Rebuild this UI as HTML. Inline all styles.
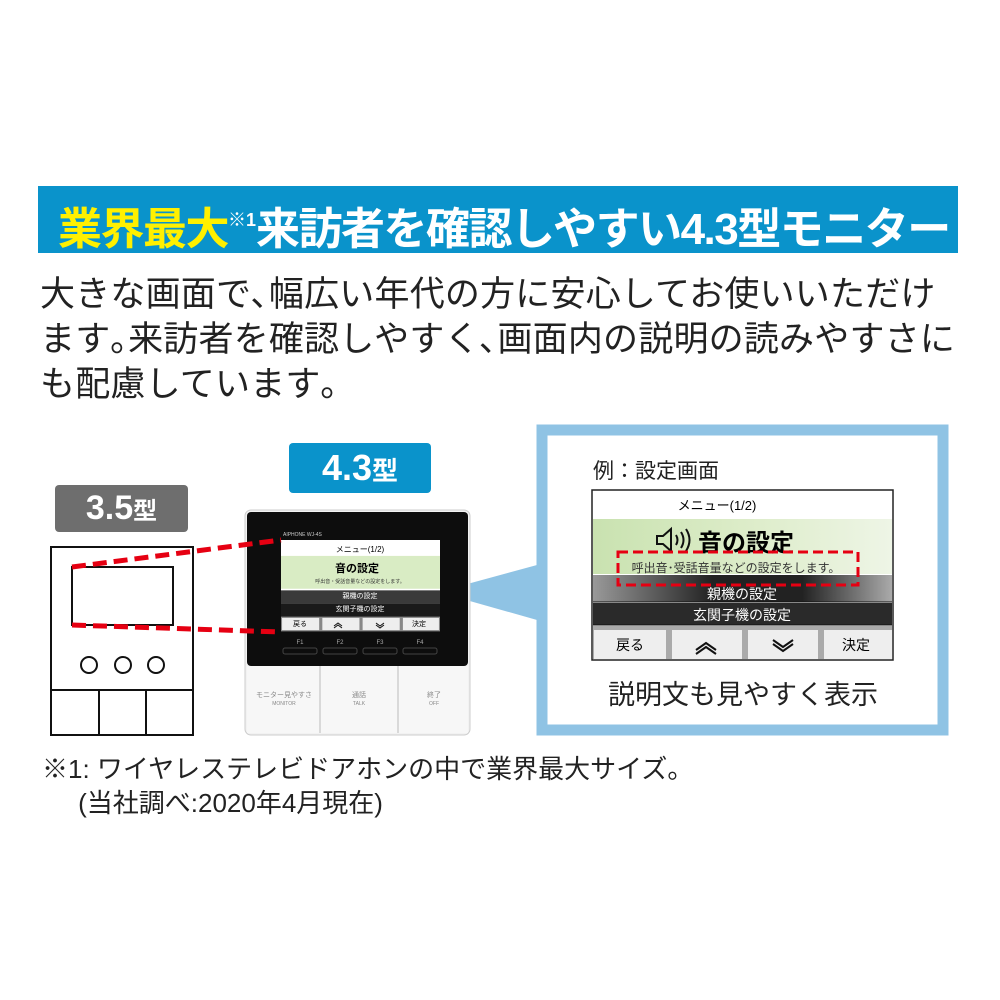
<!DOCTYPE html>
<html><head><meta charset="utf-8">
<style>
body{margin:0;width:1000px;height:1000px;background:#fff;position:relative;overflow:hidden;font-family:"Liberation Sans","Noto Sans CJK JP",sans-serif;}
.a{position:absolute;white-space:nowrap;}
</style></head><body>
<div class="a" style="left:38px;top:186px;width:920px;height:67px;background:#0a93cb;"></div>
<div class="a" style="left:58px;top:190px;font-size:44px;font-weight:bold;color:#fff;line-height:60px;letter-spacing:-1.5px"><span style="color:#fff000">業界最大</span><span style="font-size:18px;vertical-align:18px;letter-spacing:0">※1</span>来訪者を確認しやすい4.3型モニター</div>
<div class="a" style="left:40px;top:272px;font-size:35px;line-height:45px;color:#222;letter-spacing:0.2px">大きな画面で､幅広い年代の方に安心してお使いいただけ<br>ます｡来訪者を確認しやすく､画面内の説明の読みやすさに<br>も配慮しています｡</div>

<svg class="a" style="left:0;top:0" width="1000" height="1000">
 <rect x="55" y="485" width="133" height="47" rx="4" fill="#6e6e6e"/>
 <rect x="51" y="547" width="142" height="188" fill="#fff" stroke="#111" stroke-width="2"/>
 <rect x="72" y="567" width="101" height="58" fill="#fff" stroke="#111" stroke-width="2"/>
 <circle cx="89" cy="665" r="8" fill="none" stroke="#111" stroke-width="2"/>
 <circle cx="123" cy="665" r="8" fill="none" stroke="#111" stroke-width="2"/>
 <circle cx="156" cy="665" r="8" fill="none" stroke="#111" stroke-width="2"/>
 <line x1="51" y1="690" x2="193" y2="690" stroke="#111" stroke-width="2"/>
 <line x1="99" y1="690" x2="99" y2="735" stroke="#111" stroke-width="2"/>
 <line x1="146" y1="690" x2="146" y2="735" stroke="#111" stroke-width="2"/>
 <rect x="289" y="443" width="142" height="50" rx="4" fill="#0a93cb"/>
 <rect x="542" y="430" width="401" height="300" fill="#fff" stroke="#8fc3e4" stroke-width="11"/>
 <polygon points="438,592 537,565 537,620" fill="#8fc3e4"/>
 <rect x="245" y="510" width="225" height="225" rx="6" fill="#f2f2f2" stroke="#ccc"/>
 <rect x="247" y="512" width="221" height="154" rx="4" fill="#0d0d0d"/>
 <rect x="247" y="666" width="221" height="67" fill="#f7f7f7"/>
 <line x1="320" y1="666" x2="320" y2="733" stroke="#bbb"/>
 <line x1="398" y1="666" x2="398" y2="733" stroke="#bbb"/>
 <text x="283" y="536" font-size="5" fill="#ccc">AIPHONE WJ-4S</text>
 <g transform="translate(281,540) scale(0.53)">
  <rect x="0" y="0" width="300" height="172" fill="#fff"/>
  <rect x="0" y="30" width="300" height="62" fill="#d9ecc4"/>
  <rect x="0" y="95" width="300" height="25" fill="#3a3a3a"/>
  <rect x="0" y="120" width="300" height="25" fill="#1a1a1a"/>
  <rect x="0" y="145" width="300" height="27" fill="#888"/>
  <rect x="2" y="147" width="70" height="23" fill="#eee"/><rect x="78" y="147" width="70" height="23" fill="#eee"/><rect x="154" y="147" width="70" height="23" fill="#eee"/><rect x="230" y="147" width="68" height="23" fill="#eee"/>
 </g>
 <text x="360" y="552" font-size="8" text-anchor="middle">メニュー(1/2)</text>
 <text x="335" y="572" font-size="11" font-weight="bold">音の設定</text>
 <text x="360" y="583" font-size="5" text-anchor="middle" fill="#333">呼出音・受話音量などの設定をします。</text>
 <text x="360" y="598" font-size="7" text-anchor="middle" fill="#fff">親機の設定</text>
 <text x="360" y="611" font-size="7" text-anchor="middle" fill="#fff">玄関子機の設定</text>
 <text x="300" y="626" font-size="7" text-anchor="middle">戻る</text>
 <path d="M334,626 l4,-3 l4,3 M334,628 l4,-3 l4,3" stroke="#111" fill="none"/>
 <path d="M376,623 l4,3 l4,-3 M376,625 l4,3 l4,-3" stroke="#111" fill="none"/>
 <text x="419" y="626" font-size="7" text-anchor="middle">決定</text>
 <g font-size="6" fill="#aaa" text-anchor="middle"><text x="300" y="644">F1</text><text x="340" y="644">F2</text><text x="380" y="644">F3</text><text x="420" y="644">F4</text></g>
 <g stroke="#444" fill="none"><rect x="283" y="648" width="34" height="6" rx="2"/><rect x="323" y="648" width="34" height="6" rx="2"/><rect x="363" y="648" width="34" height="6" rx="2"/><rect x="403" y="648" width="34" height="6" rx="2"/></g>
 <g font-size="7" fill="#888" text-anchor="middle"><text x="284" y="697">モニター見やすさ</text><text x="284" y="705" font-size="5">MONITOR</text><text x="359" y="697">通話</text><text x="359" y="705" font-size="5">TALK</text><text x="434" y="697">終了</text><text x="434" y="705" font-size="5">OFF</text></g>
 <line x1="72" y1="567" x2="281" y2="540" stroke="#e60012" stroke-width="5" stroke-dasharray="14,7"/>
 <line x1="72" y1="625" x2="281" y2="632" stroke="#e60012" stroke-width="5" stroke-dasharray="14,7"/>
 <rect x="592" y="490" width="301" height="170" fill="#fff" stroke="#222" stroke-width="1.5"/>
 <defs><linearGradient id="g" x1="0" x2="1"><stop offset="0" stop-color="#c9e2b0"/><stop offset="0.5" stop-color="#dcecc8"/><stop offset="1" stop-color="#eef5e6"/></linearGradient>
 <linearGradient id="d" x1="0" x2="1"><stop offset="0" stop-color="#999"/><stop offset="0.4" stop-color="#222"/><stop offset="0.7" stop-color="#222"/><stop offset="1" stop-color="#aaa"/></linearGradient></defs>
 <rect x="593" y="519" width="299" height="55" fill="url(#g)"/>
 <rect x="593" y="575" width="299" height="27" fill="url(#d)"/>
 <line x1="593" y1="602" x2="892" y2="602" stroke="#111"/>
 <rect x="593" y="603" width="299" height="22" fill="#2a2a2a"/>
 <line x1="593" y1="625" x2="892" y2="625" stroke="#111"/>
 <rect x="593" y="626" width="299" height="33" fill="#aaa"/>
 <rect x="594" y="630" width="72" height="29" fill="#eee"/><rect x="672" y="630" width="70" height="29" fill="#eee"/><rect x="748" y="630" width="70" height="29" fill="#eee"/><rect x="824" y="630" width="68" height="29" fill="#eee"/>
 <text x="717" y="510" font-size="13" text-anchor="middle">メニュー(1/2)</text>
 <path d="M657,536 h6 l8,-7 v22 l-8,-7 h-6 z" fill="none" stroke="#111" stroke-width="2"/>
 <path d="M676,535 q3,5 0,10 M681,532 q5,8 0,16 M686,529 q7,11 0,22" fill="none" stroke="#111" stroke-width="2"/>
 <text x="698" y="551" font-size="24" font-weight="bold">音の設定</text>
 <text x="736" y="572" font-size="12" text-anchor="middle" fill="#333">呼出音･受話音量などの設定をします。</text>
 <rect x="618" y="552" width="240" height="33" fill="none" stroke="#e60012" stroke-width="3" stroke-dasharray="10,5"/>
 <text x="742" y="599" font-size="14" text-anchor="middle" fill="#fff">親機の設定</text>
 <text x="742" y="620" font-size="14" text-anchor="middle" fill="#fff">玄関子機の設定</text>
 <text x="630" y="650" font-size="14" text-anchor="middle">戻る</text>
 <path d="M696,650 l10,-7 l10,7 M696,654 l10,-7 l10,7" stroke="#111" stroke-width="2" fill="none"/>
 <path d="M773,640 l10,7 l10,-7 M773,644 l10,7 l10,-7" stroke="#111" stroke-width="2" fill="none"/>
 <text x="856" y="650" font-size="14" text-anchor="middle">決定</text>
</svg>
<div class="a" style="left:55px;top:482px;width:133px;text-align:center;font-size:34px;font-weight:bold;color:#fff;line-height:52px">3.5<span style="font-size:24px">型</span></div>
<div class="a" style="left:289px;top:441px;width:142px;text-align:center;font-size:36px;font-weight:bold;color:#fff;line-height:54px">4.3<span style="font-size:26px">型</span></div>
<div class="a" style="left:593px;top:455px;font-size:21px;color:#222;">例：設定画面</div>
<div class="a" style="left:608px;top:673px;font-size:27px;color:#222;">説明文も見やすく表示</div>
<div class="a" style="left:42px;top:752px;font-size:26px;line-height:34px;color:#222;">※1: ワイヤレステレビドアホンの中で業界最大サイズ。<br>&nbsp;&nbsp;&nbsp;&nbsp;&nbsp;(当社調べ:2020年4月現在)</div>
</body></html>
